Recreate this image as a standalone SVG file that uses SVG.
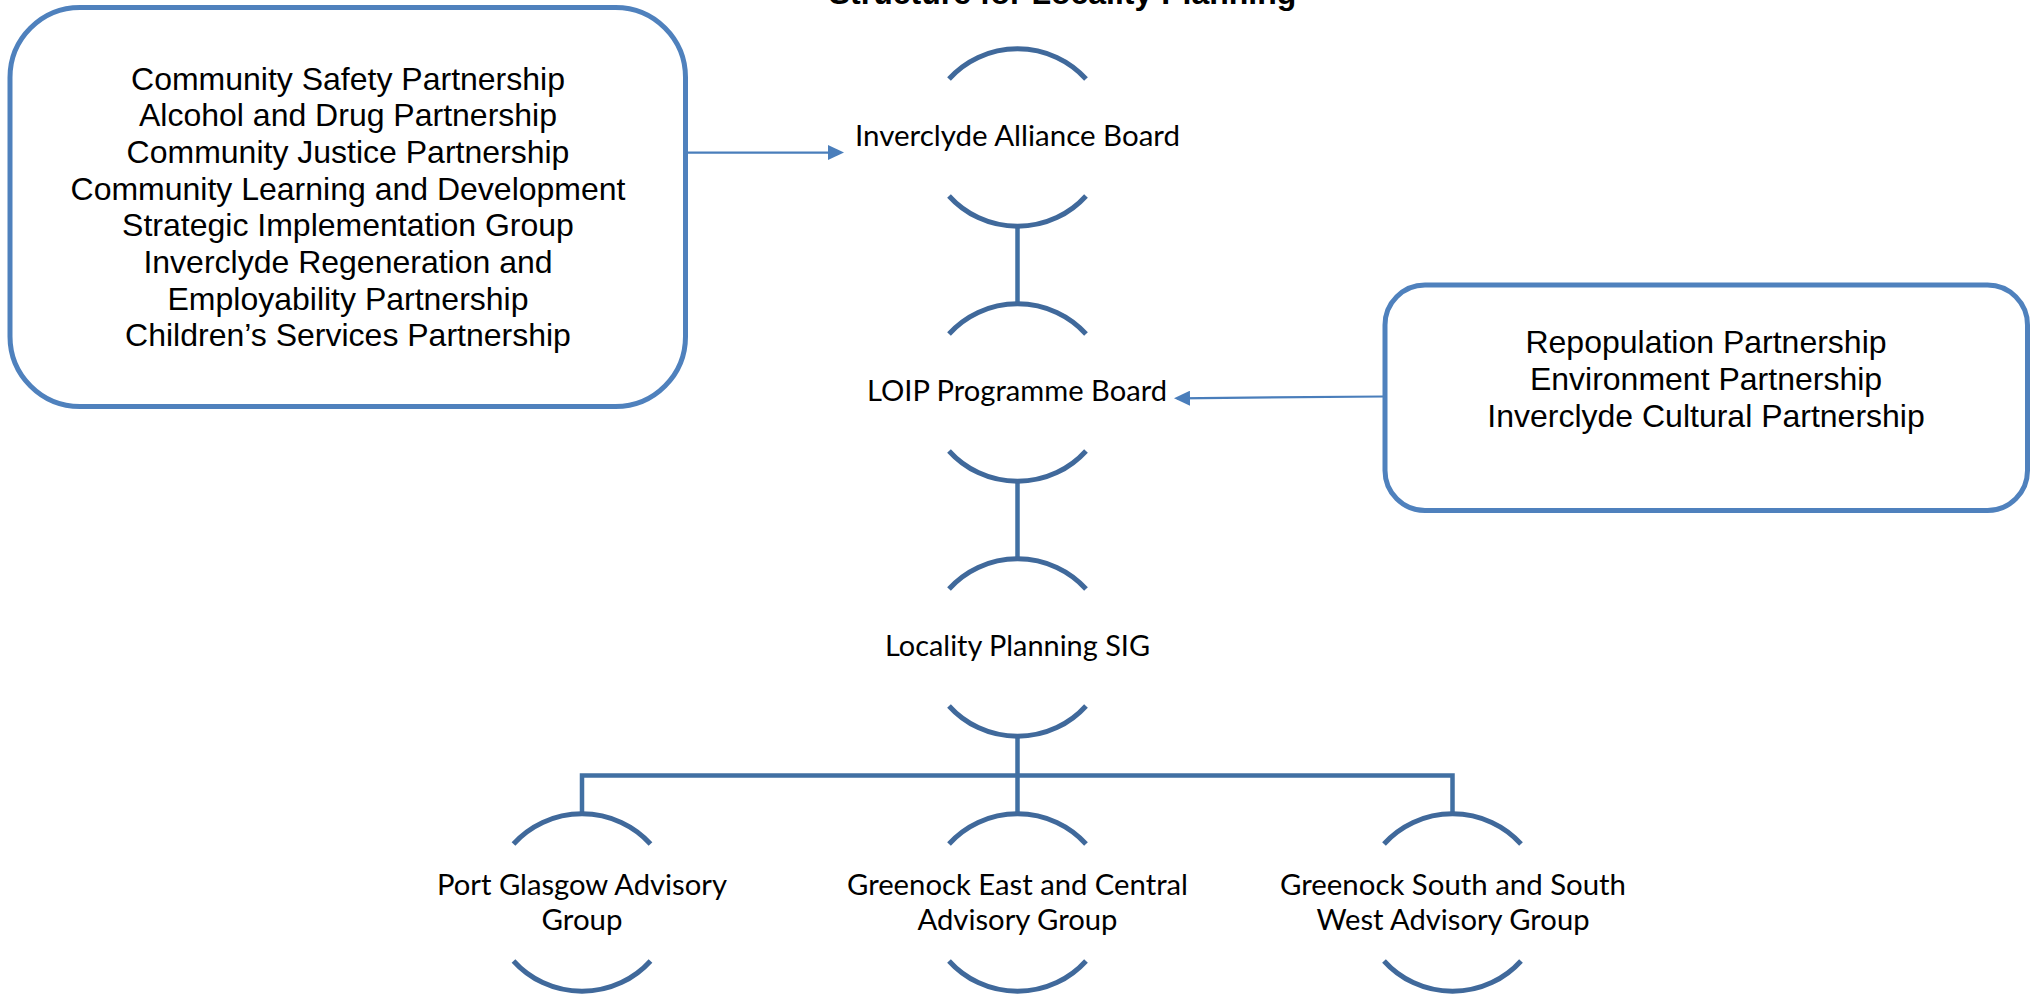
<svg xmlns="http://www.w3.org/2000/svg" width="2031" height="997" viewBox="0 0 2031 997">
<style>
.box{fill:#fff;stroke:#4F81BD;stroke-width:5}
.bt{font-family:"Liberation Sans",Arial,sans-serif;font-size:32px;fill:#000;text-anchor:middle}
.arc{fill:none;stroke:#40699B;stroke-width:5}
.nt{font-family:Lato,"Open Sans",sans-serif;font-size:28px;fill:#000;text-anchor:middle}
.con{fill:none;stroke:#4170A3;stroke-width:4.5}
.arr{fill:none;stroke:#4A7EBB;stroke-width:2.25}
.title{font-family:"Liberation Sans",Arial,sans-serif;font-size:32px;font-weight:bold;fill:#000;text-anchor:middle}
</style>
<defs>
<marker id="ah" markerUnits="userSpaceOnUse" markerWidth="16" markerHeight="15" refX="13" refY="7.5" orient="auto">
<path d="M0,0 L16,7.5 L0,15 z" fill="#4A7EBB"/>
</marker>
</defs>
<rect width="2031" height="997" fill="#fff"/>
<text class="title" x="1062.5" y="4">Structure for Locality Planning</text>

<g id="connectors">
<path class="con" d="M1017.5,226 V304"/>
<path class="con" d="M1017.5,481 V559"/>
<path class="con" d="M1017.5,736 V814"/>
<path class="con" d="M582,814 V775.5 H1452.5 V814"/>
<path class="arr" d="M686,152.5 H841" marker-end="url(#ah)"/>
<path class="arr" d="M1384,396.5 L1177,398.3" marker-end="url(#ah)"/>
</g>

<g id="partners-left">
<rect class="box" x="10" y="7.5" width="675.5" height="399" rx="70" ry="70"/>
<text class="bt" x="348" y="89.5">Community Safety Partnership</text>
<text class="bt" x="348" y="126.2">Alcohol and Drug Partnership</text>
<text class="bt" x="348" y="162.9">Community Justice Partnership</text>
<text class="bt" x="348" y="199.6">Community Learning and Development</text>
<text class="bt" x="348" y="236.3">Strategic Implementation Group</text>
<text class="bt" x="348" y="273">Inverclyde Regeneration and</text>
<text class="bt" x="348" y="309.7">Employability Partnership</text>
<text class="bt" x="348" y="346.4">Children’s Services Partnership</text>
</g>

<g id="partners-right">
<rect class="box" x="1385" y="285" width="642.5" height="225.5" rx="40" ry="40"/>
<text class="bt" x="1706" y="353.3">Repopulation Partnership</text>
<text class="bt" x="1706" y="390">Environment Partnership</text>
<text class="bt" x="1706" y="426.7">Inverclyde Cultural Partnership</text>
</g>

<g id="alliance-board">
<path class="arc" d="M949,79 A91 88.5 0 0 1 1086,79"/>
<path class="arc" d="M949,196 A91 88.5 0 0 0 1086,196"/>
<text class="nt" x="1017.5" y="146" textLength="325" lengthAdjust="spacingAndGlyphs">Inverclyde Alliance Board</text>
</g>

<g id="loip-board">
<path class="arc" d="M949,334 A91 88.5 0 0 1 1086,334"/>
<path class="arc" d="M949,451 A91 88.5 0 0 0 1086,451"/>
<text class="nt" x="1017" y="400.5" textLength="300" lengthAdjust="spacingAndGlyphs">LOIP Programme Board</text>
</g>

<g id="locality-sig">
<path class="arc" d="M949,589 A91 88.5 0 0 1 1086,589"/>
<path class="arc" d="M949,706 A91 88.5 0 0 0 1086,706"/>
<text class="nt" x="1017.5" y="656" textLength="265" lengthAdjust="spacingAndGlyphs">Locality Planning SIG</text>
</g>

<g id="port-glasgow">
<path class="arc" d="M513.5,844 A91 88.5 0 0 1 650.5,844"/>
<path class="arc" d="M513.5,961 A91 88.5 0 0 0 650.5,961"/>
<text class="nt" x="582" y="895" textLength="290" lengthAdjust="spacingAndGlyphs">Port Glasgow Advisory</text>
<text class="nt" x="582" y="930" textLength="81" lengthAdjust="spacingAndGlyphs">Group</text>
</g>

<g id="greenock-east">
<path class="arc" d="M949,844 A91 88.5 0 0 1 1086,844"/>
<path class="arc" d="M949,961 A91 88.5 0 0 0 1086,961"/>
<text class="nt" x="1017.5" y="895" textLength="341" lengthAdjust="spacingAndGlyphs">Greenock East and Central</text>
<text class="nt" x="1017.5" y="930" textLength="200" lengthAdjust="spacingAndGlyphs">Advisory Group</text>
</g>

<g id="greenock-south">
<path class="arc" d="M1384,844 A91 88.5 0 0 1 1521,844"/>
<path class="arc" d="M1384,961 A91 88.5 0 0 0 1521,961"/>
<text class="nt" x="1453" y="895" textLength="346" lengthAdjust="spacingAndGlyphs">Greenock South and South</text>
<text class="nt" x="1453" y="930" textLength="273" lengthAdjust="spacingAndGlyphs">West Advisory Group</text>
</g>
</svg>
